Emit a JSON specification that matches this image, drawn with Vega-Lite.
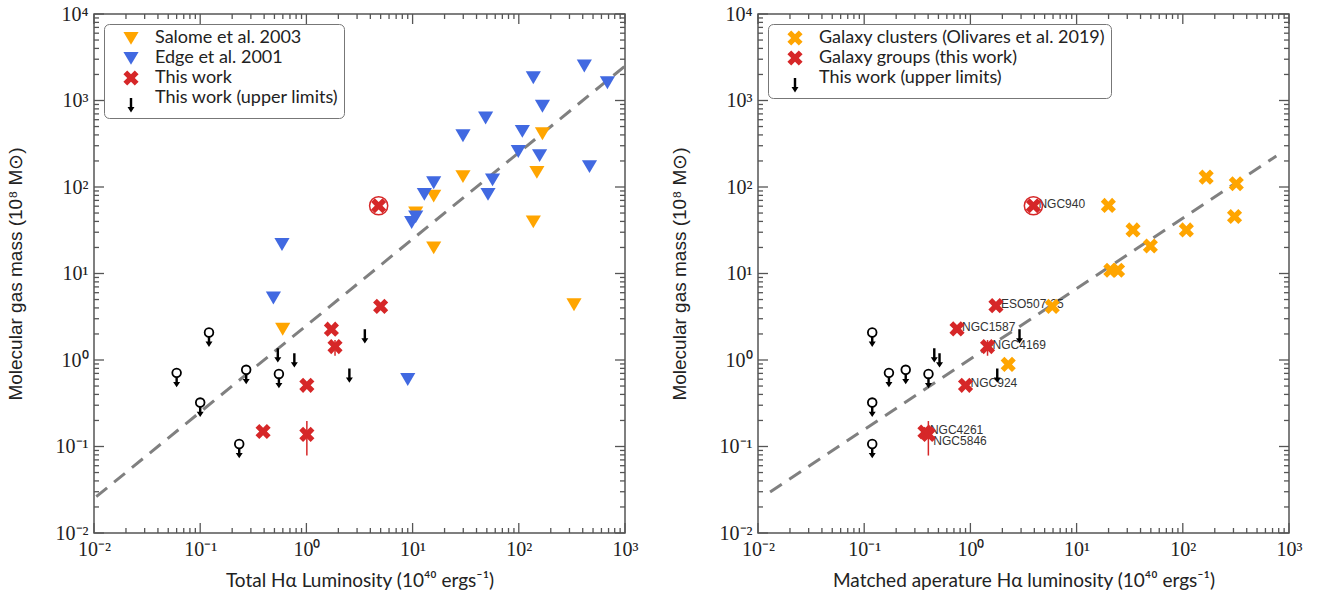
{
  "$schema": "https://vega.github.io/schema/vega-lite/v6.json",
  "padding": {"left": 5, "top": 3, "right": 5, "bottom": 5},
  "spacing": 30,
  "config": {
    "view": {"stroke": "#555", "strokeWidth": 1.5},
    "axis": {"grid": false, "domain": false, "ticks": false, "labelFont": "Liberation Serif", "labelFontSize": 20, "labelColor": "#222", "labelFlush": false, "labelOverlap": false, "titleColor": "#222", "titleFontWeight": "normal"},
    "legend": {"title": null, "orient": "top-left", "offset": 10, "padding": 5, "strokeColor": "#777", "cornerRadius": 5, "fillColor": "white", "labelFont": "Lato", "labelFontSize": 18, "labelColor": "#222", "labelLimit": 500, "symbolSize": 230, "symbolOffset": 13, "rowPadding": 2, "labelOffset": 15, "symbolStrokeWidth": 0}
  },
  "resolve": {"scale": {"color": "independent", "shape": "independent", "x": "independent", "y": "independent"}, "legend": {"color": "independent", "shape": "independent"}},
  "datasets": {
    "tk": [
      {"v": 0.01, "major": true}, {"v": 0.02, "major": false}, {"v": 0.03, "major": false}, {"v": 0.04, "major": false}, {"v": 0.05, "major": false}, {"v": 0.06, "major": false}, {"v": 0.07, "major": false}, {"v": 0.08, "major": false}, {"v": 0.09, "major": false},
      {"v": 0.1, "major": true}, {"v": 0.2, "major": false}, {"v": 0.3, "major": false}, {"v": 0.4, "major": false}, {"v": 0.5, "major": false}, {"v": 0.6, "major": false}, {"v": 0.7, "major": false}, {"v": 0.8, "major": false}, {"v": 0.9, "major": false},
      {"v": 1, "major": true}, {"v": 2, "major": false}, {"v": 3, "major": false}, {"v": 4, "major": false}, {"v": 5, "major": false}, {"v": 6, "major": false}, {"v": 7, "major": false}, {"v": 8, "major": false}, {"v": 9, "major": false},
      {"v": 10, "major": true}, {"v": 20, "major": false}, {"v": 30, "major": false}, {"v": 40, "major": false}, {"v": 50, "major": false}, {"v": 60, "major": false}, {"v": 70, "major": false}, {"v": 80, "major": false}, {"v": 90, "major": false},
      {"v": 100, "major": true}, {"v": 200, "major": false}, {"v": 300, "major": false}, {"v": 400, "major": false}, {"v": 500, "major": false}, {"v": 600, "major": false}, {"v": 700, "major": false}, {"v": 800, "major": false}, {"v": 900, "major": false},
      {"v": 1000, "major": true}, {"v": 2000, "major": false}, {"v": 3000, "major": false}, {"v": 4000, "major": false}, {"v": 5000, "major": false}, {"v": 6000, "major": false}, {"v": 7000, "major": false}, {"v": 8000, "major": false}, {"v": 9000, "major": false},
      {"v": 10000, "major": true}
    ],
    "fitL": [{"x": 0.0105, "y": 0.0263}, {"x": 1000, "y": 2500}],
    "fitR": [{"x": 0.013, "y": 0.0298}, {"x": 760, "y": 228}],
    "left": [
      {"x": 167, "y": 417, "series": "Salome et al. 2003"},
      {"x": 29.8, "y": 133, "series": "Salome et al. 2003"},
      {"x": 148, "y": 149, "series": "Salome et al. 2003"},
      {"x": 15.8, "y": 79.3, "series": "Salome et al. 2003"},
      {"x": 10.7, "y": 50.7, "series": "Salome et al. 2003"},
      {"x": 137, "y": 39.9, "series": "Salome et al. 2003"},
      {"x": 15.8, "y": 20, "series": "Salome et al. 2003"},
      {"x": 331, "y": 4.4, "series": "Salome et al. 2003"},
      {"x": 0.598, "y": 2.29, "series": "Salome et al. 2003"},
      {"x": 414, "y": 2530, "series": "Edge et al. 2001"},
      {"x": 137, "y": 1850, "series": "Edge et al. 2001"},
      {"x": 683, "y": 1620, "series": "Edge et al. 2001"},
      {"x": 167, "y": 867, "series": "Edge et al. 2001"},
      {"x": 48.7, "y": 634, "series": "Edge et al. 2001"},
      {"x": 29.8, "y": 395, "series": "Edge et al. 2001"},
      {"x": 108, "y": 444, "series": "Edge et al. 2001"},
      {"x": 98.9, "y": 260, "series": "Edge et al. 2001"},
      {"x": 157, "y": 233, "series": "Edge et al. 2001"},
      {"x": 463, "y": 174, "series": "Edge et al. 2001"},
      {"x": 15.8, "y": 113, "series": "Edge et al. 2001"},
      {"x": 56.6, "y": 122, "series": "Edge et al. 2001"},
      {"x": 51.3, "y": 83, "series": "Edge et al. 2001"},
      {"x": 12.9, "y": 83, "series": "Edge et al. 2001"},
      {"x": 10.7, "y": 45.6, "series": "Edge et al. 2001"},
      {"x": 9.8, "y": 39.2, "series": "Edge et al. 2001"},
      {"x": 0.589, "y": 21.9, "series": "Edge et al. 2001"},
      {"x": 0.489, "y": 5.26, "series": "Edge et al. 2001"},
      {"x": 9.0, "y": 0.6, "series": "Edge et al. 2001"},
      {"x": 4.79, "y": 60.7, "series": "This work", "hl": true},
      {"x": 5.0, "y": 4.17, "series": "This work"},
      {"x": 1.72, "y": 2.27, "series": "This work"},
      {"x": 1.86, "y": 1.43, "series": "This work", "yLo": 1.12, "yHi": 1.7},
      {"x": 1.01, "y": 0.51, "series": "This work"},
      {"x": 0.391, "y": 0.149, "series": "This work"},
      {"x": 1.01, "y": 0.138, "series": "This work", "yLo": 0.0786, "yHi": 0.197},
      {"x": 0.121, "y": 2.08, "series": "This work (upper limits)", "circ": true},
      {"x": 0.06, "y": 0.71, "series": "This work (upper limits)", "circ": true},
      {"x": 0.271, "y": 0.77, "series": "This work (upper limits)", "circ": true},
      {"x": 0.551, "y": 0.69, "series": "This work (upper limits)", "circ": true},
      {"x": 0.1, "y": 0.322, "series": "This work (upper limits)", "circ": true},
      {"x": 0.233, "y": 0.107, "series": "This work (upper limits)", "circ": true},
      {"x": 0.538, "y": 1.37, "series": "This work (upper limits)"},
      {"x": 0.77, "y": 1.2, "series": "This work (upper limits)"},
      {"x": 3.55, "y": 2.27, "series": "This work (upper limits)"},
      {"x": 2.54, "y": 0.8, "series": "This work (upper limits)"}
    ],
    "right": [
      {"x": 166, "y": 130, "series": "Galaxy clusters (Olivares et al. 2019)"},
      {"x": 319, "y": 109, "series": "Galaxy clusters (Olivares et al. 2019)"},
      {"x": 307, "y": 45.6, "series": "Galaxy clusters (Olivares et al. 2019)"},
      {"x": 19.9, "y": 61.2, "series": "Galaxy clusters (Olivares et al. 2019)"},
      {"x": 34.0, "y": 31.9, "series": "Galaxy clusters (Olivares et al. 2019)"},
      {"x": 108, "y": 31.9, "series": "Galaxy clusters (Olivares et al. 2019)"},
      {"x": 49.5, "y": 20.8, "series": "Galaxy clusters (Olivares et al. 2019)"},
      {"x": 21.0, "y": 10.9, "series": "Galaxy clusters (Olivares et al. 2019)"},
      {"x": 24.3, "y": 10.9, "series": "Galaxy clusters (Olivares et al. 2019)"},
      {"x": 5.9, "y": 4.17, "series": "Galaxy clusters (Olivares et al. 2019)"},
      {"x": 2.27, "y": 0.89, "series": "Galaxy clusters (Olivares et al. 2019)"},
      {"x": 3.92, "y": 60.7, "series": "Galaxy groups (this work)", "name": "NGC940", "hl": true},
      {"x": 1.74, "y": 4.25, "series": "Galaxy groups (this work)", "name": "ESO507-25"},
      {"x": 0.748, "y": 2.29, "series": "Galaxy groups (this work)", "name": "NGC1587"},
      {"x": 1.45, "y": 1.43, "series": "Galaxy groups (this work)", "name": "NGC4169", "yLo": 1.12, "yHi": 1.7},
      {"x": 0.9, "y": 0.51, "series": "Galaxy groups (this work)", "name": "NGC924"},
      {"x": 0.373, "y": 0.147, "series": "Galaxy groups (this work)", "name": "NGC4261"},
      {"x": 0.402, "y": 0.138, "series": "Galaxy groups (this work)", "name": "NGC5846", "yLo": 0.0786, "yHi": 0.197},
      {"x": 0.119, "y": 2.08, "series": "This work (upper limits)", "circ": true},
      {"x": 0.171, "y": 0.71, "series": "This work (upper limits)", "circ": true},
      {"x": 0.246, "y": 0.77, "series": "This work (upper limits)", "circ": true},
      {"x": 0.403, "y": 0.69, "series": "This work (upper limits)", "circ": true},
      {"x": 0.119, "y": 0.322, "series": "This work (upper limits)", "circ": true},
      {"x": 0.119, "y": 0.107, "series": "This work (upper limits)", "circ": true},
      {"x": 0.457, "y": 1.37, "series": "This work (upper limits)"},
      {"x": 0.512, "y": 1.2, "series": "This work (upper limits)"},
      {"x": 2.9, "y": 2.27, "series": "This work (upper limits)"},
      {"x": 1.79, "y": 0.8, "series": "This work (upper limits)"}
    ]
  },
  "hconcat": [
    {
      "width": 531, "height": 519,
      "layer": [
        {
          "data": {"name": "fitL"},
          "mark": {"type": "line", "color": "#808080", "strokeWidth": 3, "strokeDash": [14, 9]},
          "encoding": {
            "x": {"field": "x", "type": "quantitative", "scale": {"type": "log", "domain": [0.01, 1000], "nice": false},
              "axis": {"orient": "bottom", "values": [0.01, 0.1, 1, 10, 100, 1000],
                "labelExpr": "['10⁻²','10⁻¹','10⁰','10¹','10²','10³','10⁴'][round(log(datum.value)/LN10) + 2]",
                "labelPadding": 6, "title": "Total Hα Luminosity (10⁴⁰ ergs⁻¹)", "titleFont": "Lato", "titleFontSize": 19, "titlePadding": 12}},
            "y": {"field": "y", "type": "quantitative", "scale": {"type": "log", "domain": [0.01, 10000], "nice": false},
              "axis": {"orient": "left", "values": [0.01, 0.1, 1, 10, 100, 1000, 10000],
                "labelExpr": "['10⁻²','10⁻¹','10⁰','10¹','10²','10³','10⁴'][round(log(datum.value)/LN10) + 2]",
                "labelPadding": 6, "title": "Molecular gas mass (10⁸ M⊙)", "titleFont": "Liberation Sans", "titleFontSize": 19, "titlePadding": 30}}
          }
        },
        {"data": {"name": "tk"}, "transform": [{"filter": "datum.major && datum.v <= 1000"}], "mark": {"type": "rule", "color": "#555", "strokeWidth": 1.3},
          "encoding": {"x": {"field": "v", "type": "quantitative"}, "y": {"datum": 0.01}, "y2": {"datum": 0.01305}}},
        {"data": {"name": "tk"}, "transform": [{"filter": "!datum.major && datum.v <= 1000"}], "mark": {"type": "rule", "color": "#555", "strokeWidth": 1.3},
          "encoding": {"x": {"field": "v", "type": "quantitative"}, "y": {"datum": 0.01}, "y2": {"datum": 0.01142}}},
        {"data": {"name": "tk"}, "transform": [{"filter": "datum.major && datum.v <= 1000"}], "mark": {"type": "rule", "color": "#555", "strokeWidth": 1.3},
          "encoding": {"x": {"field": "v", "type": "quantitative"}, "y": {"datum": 10000}, "y2": {"datum": 7663}}},
        {"data": {"name": "tk"}, "transform": [{"filter": "!datum.major && datum.v <= 1000"}], "mark": {"type": "rule", "color": "#555", "strokeWidth": 1.3},
          "encoding": {"x": {"field": "v", "type": "quantitative"}, "y": {"datum": 10000}, "y2": {"datum": 8757}}},
        {"data": {"name": "tk"}, "transform": [{"filter": "datum.major"}], "mark": {"type": "rule", "color": "#555", "strokeWidth": 1.3},
          "encoding": {"y": {"field": "v", "type": "quantitative"}, "x": {"datum": 0.01}, "x2": {"datum": 0.01242}}},
        {"data": {"name": "tk"}, "transform": [{"filter": "!datum.major"}], "mark": {"type": "rule", "color": "#555", "strokeWidth": 1.3},
          "encoding": {"y": {"field": "v", "type": "quantitative"}, "x": {"datum": 0.01}, "x2": {"datum": 0.011145}}},
        {"data": {"name": "tk"}, "transform": [{"filter": "datum.major"}], "mark": {"type": "rule", "color": "#555", "strokeWidth": 1.3},
          "encoding": {"y": {"field": "v", "type": "quantitative"}, "x": {"datum": 1000}, "x2": {"datum": 805}}},
        {"data": {"name": "tk"}, "transform": [{"filter": "!datum.major"}], "mark": {"type": "rule", "color": "#555", "strokeWidth": 1.3},
          "encoding": {"y": {"field": "v", "type": "quantitative"}, "x": {"datum": 1000}, "x2": {"datum": 897}}},
        {
          "data": {"name": "left"},
          "transform": [{"filter": "isValid(datum.yLo)"}],
          "mark": {"type": "rule", "color": "#D62728", "strokeWidth": 1.5},
          "encoding": {
            "x": {"field": "x", "type": "quantitative"},
            "y": {"field": "yLo", "type": "quantitative"},
            "y2": {"field": "yHi"}
          }
        },
        {
          "data": {"name": "left"},
          "mark": {"type": "point", "filled": true, "size": 230, "opacity": 1, "strokeWidth": 0},
          "encoding": {
            "x": {"field": "x", "type": "quantitative"},
            "y": {"field": "y", "type": "quantitative"},
            "color": {"field": "series", "type": "nominal",
              "scale": {"domain": ["Salome et al. 2003", "Edge et al. 2001", "This work", "This work (upper limits)"], "range": ["#FFA500", "#4169E1", "#D62728", "#000000"]}},
            "shape": {"field": "series", "type": "nominal",
              "scale": {"domain": ["Salome et al. 2003", "Edge et al. 2001", "This work", "This work (upper limits)"],
                "range": ["M-1,-0.8L1,-0.8L0,0.9Z", "M-1,-0.8L1,-0.8L0,0.9Z", "M-0.5,-1L0,-0.5L0.5,-1L1,-0.5L0.5,0L1,0.5L0.5,1L0,0.5L-0.5,1L-1,0.5L-0.5,0L-1,-0.5Z", "M-0.16,0L0.16,0L0.16,1.2L0.46,1.2L0,1.9L-0.46,1.2L-0.16,1.2Z"]}}
          }
        },
        {
          "data": {"name": "left"},
          "transform": [{"filter": "datum.circ === true"}],
          "mark": {"type": "point", "shape": "circle", "filled": false, "fill": "white", "fillOpacity": 1, "stroke": "#000000", "strokeWidth": 1.8, "size": 75, "opacity": 1},
          "encoding": {
            "x": {"field": "x", "type": "quantitative"},
            "y": {"field": "y", "type": "quantitative"}
          }
        },
        {
          "data": {"name": "left"},
          "transform": [{"filter": "datum.hl === true"}],
          "mark": {"type": "point", "shape": "circle", "filled": false, "stroke": "#D62728", "strokeWidth": 1.5, "size": 330, "opacity": 1},
          "encoding": {
            "x": {"field": "x", "type": "quantitative"},
            "y": {"field": "y", "type": "quantitative"}
          }
        }
      ]
    },
    {
      "width": 531, "height": 519,
      "layer": [
        {
          "data": {"name": "fitR"},
          "mark": {"type": "line", "color": "#808080", "strokeWidth": 3, "strokeDash": [14, 9]},
          "encoding": {
            "x": {"field": "x", "type": "quantitative", "scale": {"type": "log", "domain": [0.01, 1000], "nice": false},
              "axis": {"orient": "bottom", "values": [0.01, 0.1, 1, 10, 100, 1000],
                "labelExpr": "['10⁻²','10⁻¹','10⁰','10¹','10²','10³','10⁴'][round(log(datum.value)/LN10) + 2]",
                "labelPadding": 6, "title": "Matched aperature Hα luminosity (10⁴⁰ ergs⁻¹)", "titleFont": "Lato", "titleFontSize": 19, "titlePadding": 12}},
            "y": {"field": "y", "type": "quantitative", "scale": {"type": "log", "domain": [0.01, 10000], "nice": false},
              "axis": {"orient": "left", "values": [0.01, 0.1, 1, 10, 100, 1000, 10000],
                "labelExpr": "['10⁻²','10⁻¹','10⁰','10¹','10²','10³','10⁴'][round(log(datum.value)/LN10) + 2]",
                "labelPadding": 6, "title": "Molecular gas mass (10⁸ M⊙)", "titleFont": "Liberation Sans", "titleFontSize": 19, "titlePadding": 30}}
          }
        },
        {"data": {"name": "tk"}, "transform": [{"filter": "datum.major && datum.v <= 1000"}], "mark": {"type": "rule", "color": "#555", "strokeWidth": 1.3},
          "encoding": {"x": {"field": "v", "type": "quantitative"}, "y": {"datum": 0.01}, "y2": {"datum": 0.01305}}},
        {"data": {"name": "tk"}, "transform": [{"filter": "!datum.major && datum.v <= 1000"}], "mark": {"type": "rule", "color": "#555", "strokeWidth": 1.3},
          "encoding": {"x": {"field": "v", "type": "quantitative"}, "y": {"datum": 0.01}, "y2": {"datum": 0.01142}}},
        {"data": {"name": "tk"}, "transform": [{"filter": "datum.major && datum.v <= 1000"}], "mark": {"type": "rule", "color": "#555", "strokeWidth": 1.3},
          "encoding": {"x": {"field": "v", "type": "quantitative"}, "y": {"datum": 10000}, "y2": {"datum": 7663}}},
        {"data": {"name": "tk"}, "transform": [{"filter": "!datum.major && datum.v <= 1000"}], "mark": {"type": "rule", "color": "#555", "strokeWidth": 1.3},
          "encoding": {"x": {"field": "v", "type": "quantitative"}, "y": {"datum": 10000}, "y2": {"datum": 8757}}},
        {"data": {"name": "tk"}, "transform": [{"filter": "datum.major"}], "mark": {"type": "rule", "color": "#555", "strokeWidth": 1.3},
          "encoding": {"y": {"field": "v", "type": "quantitative"}, "x": {"datum": 0.01}, "x2": {"datum": 0.01242}}},
        {"data": {"name": "tk"}, "transform": [{"filter": "!datum.major"}], "mark": {"type": "rule", "color": "#555", "strokeWidth": 1.3},
          "encoding": {"y": {"field": "v", "type": "quantitative"}, "x": {"datum": 0.01}, "x2": {"datum": 0.011145}}},
        {"data": {"name": "tk"}, "transform": [{"filter": "datum.major"}], "mark": {"type": "rule", "color": "#555", "strokeWidth": 1.3},
          "encoding": {"y": {"field": "v", "type": "quantitative"}, "x": {"datum": 1000}, "x2": {"datum": 805}}},
        {"data": {"name": "tk"}, "transform": [{"filter": "!datum.major"}], "mark": {"type": "rule", "color": "#555", "strokeWidth": 1.3},
          "encoding": {"y": {"field": "v", "type": "quantitative"}, "x": {"datum": 1000}, "x2": {"datum": 897}}},
        {
          "data": {"name": "right"},
          "transform": [{"filter": "isValid(datum.yLo)"}],
          "mark": {"type": "rule", "color": "#D62728", "strokeWidth": 1.5},
          "encoding": {
            "x": {"field": "x", "type": "quantitative"},
            "y": {"field": "yLo", "type": "quantitative"},
            "y2": {"field": "yHi"}
          }
        },
        {
          "data": {"name": "right"},
          "transform": [{"filter": "isValid(datum.name) && datum.name !== 'NGC5846'"}],
          "mark": {"type": "text", "align": "left", "baseline": "alphabetic", "dx": 5, "dy": 2, "font": "Liberation Sans", "fontSize": 12, "color": "#333"},
          "encoding": {
            "x": {"field": "x", "type": "quantitative"},
            "y": {"field": "y", "type": "quantitative"},
            "text": {"field": "name"}
          }
        },
        {
          "data": {"name": "right"},
          "transform": [{"filter": "datum.name === 'NGC5846'"}],
          "mark": {"type": "text", "align": "left", "baseline": "top", "dx": 5, "dy": 2, "font": "Liberation Sans", "fontSize": 12, "color": "#333"},
          "encoding": {
            "x": {"field": "x", "type": "quantitative"},
            "y": {"field": "y", "type": "quantitative"},
            "text": {"field": "name"}
          }
        },
        {
          "data": {"name": "right"},
          "mark": {"type": "point", "filled": true, "size": 230, "opacity": 1, "strokeWidth": 0},
          "encoding": {
            "x": {"field": "x", "type": "quantitative"},
            "y": {"field": "y", "type": "quantitative"},
            "color": {"field": "series", "type": "nominal",
              "scale": {"domain": ["Galaxy clusters (Olivares et al. 2019)", "Galaxy groups (this work)", "This work (upper limits)"], "range": ["#FFA500", "#D62728", "#000000"]}},
            "shape": {"field": "series", "type": "nominal",
              "scale": {"domain": ["Galaxy clusters (Olivares et al. 2019)", "Galaxy groups (this work)", "This work (upper limits)"],
                "range": ["M-0.5,-1L0,-0.5L0.5,-1L1,-0.5L0.5,0L1,0.5L0.5,1L0,0.5L-0.5,1L-1,0.5L-0.5,0L-1,-0.5Z", "M-0.5,-1L0,-0.5L0.5,-1L1,-0.5L0.5,0L1,0.5L0.5,1L0,0.5L-0.5,1L-1,0.5L-0.5,0L-1,-0.5Z", "M-0.16,0L0.16,0L0.16,1.2L0.46,1.2L0,1.9L-0.46,1.2L-0.16,1.2Z"]}}
          }
        },
        {
          "data": {"name": "right"},
          "transform": [{"filter": "datum.circ === true"}],
          "mark": {"type": "point", "shape": "circle", "filled": false, "fill": "white", "fillOpacity": 1, "stroke": "#000000", "strokeWidth": 1.8, "size": 75, "opacity": 1},
          "encoding": {
            "x": {"field": "x", "type": "quantitative"},
            "y": {"field": "y", "type": "quantitative"}
          }
        },
        {
          "data": {"name": "right"},
          "transform": [{"filter": "datum.hl === true"}],
          "mark": {"type": "point", "shape": "circle", "filled": false, "stroke": "#D62728", "strokeWidth": 1.5, "size": 330, "opacity": 1},
          "encoding": {
            "x": {"field": "x", "type": "quantitative"},
            "y": {"field": "y", "type": "quantitative"}
          }
        }
      ]
    }
  ]
}
